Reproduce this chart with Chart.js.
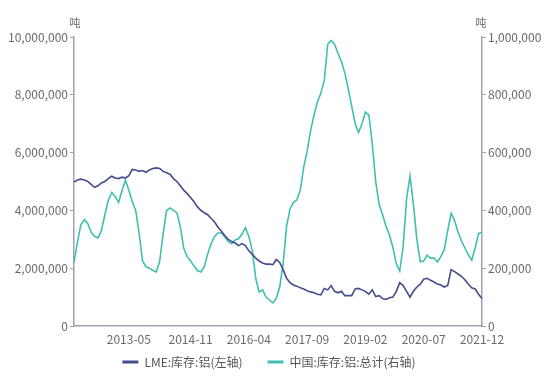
<!DOCTYPE html>
<html>
<head>
<meta charset="utf-8">
<script src="https://cdn.jsdelivr.net/npm/chart.js@4"></script>
<style>
  html, body { margin: 0; padding: 0; background: #fff; }
  #wrap { width: 550px; height: 379px; }
</style>
</head>
<body>
<div id="wrap"><canvas id="stockChart" width="550" height="379"></canvas></div>
<script>
// monthly, 2012-01 .. 2021-12
const startYear = 2012
const monthCount = 120

const months = []
for (let i = 0; i < monthCount; i++) {
  const y = startYear + Math.floor(i / 12)
  const m = (i % 12) + 1
  months.push(y + '-' + String(m).padStart(2, '0'))
}

const xTickLabels = ['2013-05', '2014-11', '2016-04', '2017-09', '2019-02', '2020-07', '2021-12']

const leftTicks = [0, 2000000, 4000000, 6000000, 8000000, 10000000]
const rightTicks = [0, 200000, 400000, 600000, 800000, 1000000]

// LME aluminium stocks, million tonnes (left axis)
const lmeStock = [
  4.98, 5.05, 5.08, 5.05, 5.00, 4.90, 4.80, 4.85, 4.95, 5.00, 5.10, 5.18,
  5.12, 5.10, 5.15, 5.12, 5.20, 5.42, 5.40, 5.35, 5.38, 5.32, 5.40, 5.45,
  5.47, 5.45, 5.35, 5.30, 5.25, 5.10, 5.00, 4.85, 4.70, 4.58, 4.45, 4.30,
  4.12, 4.00, 3.92, 3.85, 3.72, 3.60, 3.42, 3.28, 3.12, 3.00, 2.92, 2.87,
  2.78, 2.85, 2.78, 2.60, 2.48, 2.35, 2.25, 2.18, 2.14, 2.14, 2.12, 2.30,
  2.20, 1.95, 1.65, 1.50, 1.42, 1.38, 1.32, 1.28, 1.22, 1.18, 1.15, 1.10,
  1.08, 1.30, 1.25, 1.40, 1.20, 1.15, 1.20, 1.05, 1.05, 1.05, 1.28, 1.30,
  1.25, 1.20, 1.10, 1.25, 1.02, 1.05, 0.95, 0.92, 0.98, 1.00, 1.20, 1.50,
  1.40, 1.20, 1.00, 1.20, 1.35, 1.45, 1.62, 1.65, 1.58, 1.52, 1.45, 1.42,
  1.35, 1.40, 1.95, 1.88, 1.80, 1.72, 1.60, 1.45, 1.32, 1.28, 1.10, 0.95
]

// China aluminium stocks total, thousand tonnes (right axis)
const chinaStock = [
  220, 290, 350, 368, 355, 325, 310, 305, 330, 385, 435, 462,
  448, 428, 468, 505, 470, 430, 400, 320, 225, 205, 200, 192,
  187, 225, 320, 400, 408, 400, 392, 343, 270, 240, 225, 208,
  192, 187, 205, 250, 285, 310, 322, 322, 308, 292, 285, 298,
  302, 318, 340, 310, 262, 165, 118, 125, 100, 90, 80, 95,
  135, 215, 345, 405, 428, 436, 470, 550, 605, 675, 730, 775,
  805, 850, 975, 988, 975, 944, 915, 875, 820, 760, 700, 670,
  700, 740, 730, 630, 500, 420, 385, 345, 315, 273, 215, 190,
  275, 440, 520, 420, 300, 222, 225, 245, 235, 235, 222, 240,
  265, 330, 390, 365, 325, 295, 270, 246, 228, 270, 320, 325
]

const lmeColor = '#434c8c'
const chinaColor = '#40bfae'
const axisColor = '#a0a0b2'
const textColor = '#6a6a6a'
const fontFamily = '"Noto Sans CJK SC", "Noto Sans", sans-serif'

const fmt = v => Number(v).toLocaleString('en-US')

// unit labels above each y axis
const unitLabels = {
  id: 'unitLabels',
  afterDraw(chart) {
    const { ctx, chartArea } = chart
    ctx.save()
    ctx.fillStyle = textColor
    ctx.font = '11px ' + fontFamily
    ctx.textAlign = 'center'
    ctx.textBaseline = 'middle'
    ctx.fillText('吨', chartArea.left + 1, 23)
    ctx.fillText('吨', chartArea.right - 1, 23)
    ctx.restore()
  }
}

// bottom legend, drawn by hand so the gap between items can be wider
const bottomLegend = {
  id: 'bottomLegend',
  afterDraw(chart) {
    const { ctx } = chart
    const lineW = 16
    const textGap = 6
    const itemGap = 25
    const centerX = 269
    const y = 362

    ctx.save()
    ctx.font = '12px ' + fontFamily
    ctx.textBaseline = 'middle'
    ctx.textAlign = 'left'

    const items = chart.data.datasets.map(ds => ({
      text: ds.label,
      color: ds.borderColor,
      w: lineW + textGap + ctx.measureText(ds.label).width
    }))
    const total = items.reduce((s, it) => s + it.w, 0) + itemGap * (items.length - 1)
    let x = centerX - total / 2

    items.forEach(it => {
      ctx.fillStyle = it.color
      ctx.fillRect(x, y - 1.5, lineW, 3)
      ctx.fillStyle = '#555'
      ctx.fillText(it.text, x + lineW + textGap, y)
      x += it.w + itemGap
    })
    ctx.restore()
  }
}

const ctx = document.getElementById('stockChart').getContext('2d')

new Chart(ctx, {
  type: 'line',
  data: {
    labels: months,
    datasets: [{
      label: 'LME:库存:铝(左轴)',
      data: lmeStock.map(v => v * 1000000),
      borderColor: lmeColor,
      backgroundColor: lmeColor,
      borderWidth: 1.6,
      pointRadius: 0,
      fill: false,
      yAxisID: 'yLeft'
    }, {
      label: '中国:库存:铝:总计(右轴)',
      data: chinaStock.map(v => v * 1000),
      borderColor: chinaColor,
      backgroundColor: chinaColor,
      borderWidth: 1.6,
      pointRadius: 0,
      fill: false,
      yAxisID: 'yRight'
    }]
  },
  options: {
    responsive: false,
    animation: false,
    layout: { padding: { top: 37, left: 0, right: 0, bottom: 32 } },
    plugins: {
      tooltip: { enabled: false },
      legend: { display: false }
    },
    scales: {
      x: {
        type: 'category',
        offset: false,
        grid: { display: false, drawTicks: false },
        border: { display: true, color: axisColor, width: 1.5 },
        ticks: {
          autoSkip: false,
          maxRotation: 0,
          padding: 6,
          color: textColor,
          font: { family: fontFamily, size: 12 },
          callback: function (value, index) {
            const lbl = months[index]
            return xTickLabels.includes(lbl) ? lbl : ''
          }
        },
        afterFit: scale => { scale.height = 21 }
      },
      yLeft: {
        position: 'left',
        min: 0,
        max: 10000000,
        afterBuildTicks: scale => { scale.ticks = leftTicks.map(v => ({ value: v })) },
        grid: { drawOnChartArea: false, drawTicks: true, tickLength: 4, color: axisColor, lineWidth: 1 },
        border: { display: true, color: axisColor, width: 1.5 },
        ticks: {
          padding: 2,
          color: textColor,
          font: { family: fontFamily, size: 12 },
          callback: v => fmt(v)
        },
        afterFit: scale => { scale.width = 74 }
      },
      yRight: {
        position: 'right',
        min: 0,
        max: 1000000,
        afterBuildTicks: scale => { scale.ticks = rightTicks.map(v => ({ value: v })) },
        grid: { drawOnChartArea: false, drawTicks: true, tickLength: 4, color: axisColor, lineWidth: 1 },
        border: { display: true, color: axisColor, width: 1.5 },
        ticks: {
          padding: 2,
          color: textColor,
          font: { family: fontFamily, size: 12 },
          callback: v => fmt(v)
        },
        afterFit: scale => { scale.width = 68 }
      }
    }
  },
  plugins: [unitLabels, bottomLegend]
})
</script>
</body>
</html>
